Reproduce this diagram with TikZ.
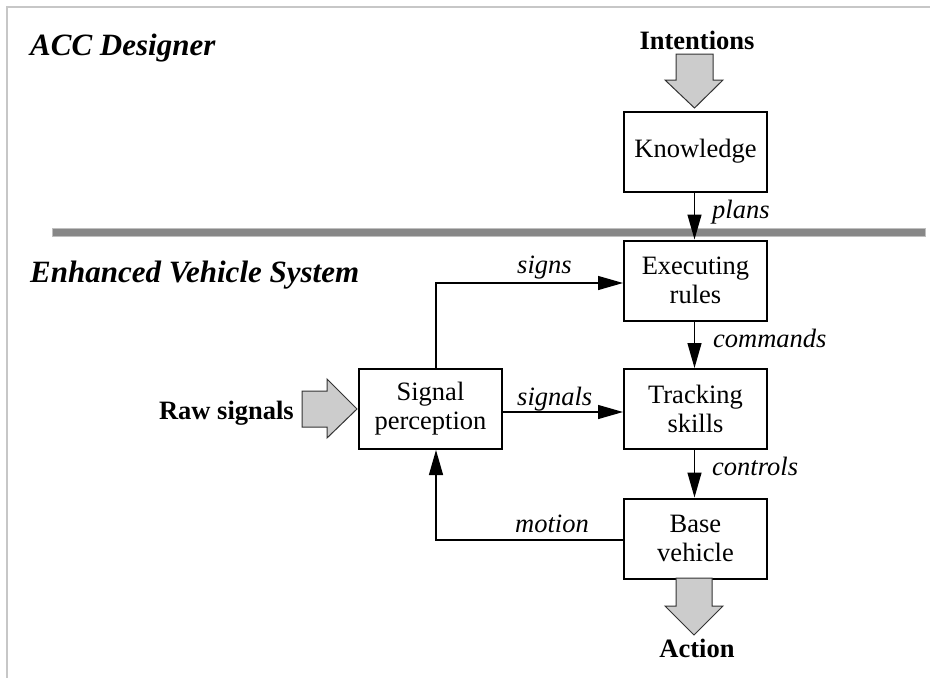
\documentclass[tikz,border=0pt]{standalone}
\usepackage{fontspec}
\setmainfont{Liberation Serif}
\usetikzlibrary{arrows.meta}
\begin{document}
\begin{tikzpicture}[x=1pt,y=-1pt,
  box/.style={draw,line width=2pt,minimum width=143pt,minimum height=80pt,inner sep=0pt,align=center,font=\fontsize{26.5}{29}\selectfont},
  lbl/.style={font=\fontsize{26.5}{29}\selectfont\itshape,inner sep=0pt},
  blbl/.style={font=\fontsize{26.5}{29}\selectfont\bfseries,inner sep=0pt},
  ttl/.style={font=\fontsize{31}{34}\selectfont\bfseries\itshape,inner sep=0pt},
  conn/.style={line width=1.3pt,-{Triangle[length=25pt,width=14pt]}},
  plainline/.style={line width=1.3pt},
  bigarrow/.style={fill=black!20,draw=black!80,line width=1pt}
]
\useasboundingbox (0,0) rectangle (930,678);
\fill[white] (0,0) rectangle (930,678);
\draw[black!22,line width=2pt] (7,678) -- (7,7) -- (930,7);
% separator bar
\draw[fill=black!47,draw=black!25,line width=1pt] (52,228) rectangle (925,236);
% titles
\node[ttl,anchor=base west] (t1) at (30,55) {ACC Designer};
\node[ttl,anchor=base west] (t2) at (30,282) {Enhanced Vehicle System};
% boxes
\node[box] (know) at (695.5,151.5) {Knowledge};
\node[box] (exec) at (695.5,280.5) {Executing\\rules};
\node[box] (track) at (695.5,409) {Tracking\\skills};
\node[box] (base) at (695.5,538.5) {Base\\vehicle};
\node[box] (sig) at (430.5,409) {Signal\\perception};
% big arrows
\draw[bigarrow] (676,54) -- (713,54) -- (713,80) -- (723,80) -- (694.5,108) -- (665,80) -- (676,80) -- cycle;
\draw[bigarrow] (676,578) -- (712,578) -- (712,606) -- (723,606) -- (694,635) -- (665,606) -- (676,606) -- cycle;
\draw[bigarrow] (302,391) -- (327,391) -- (327,379) -- (357,409) -- (327,438) -- (327,427) -- (302,427) -- cycle;
% big-arrow labels
\node[blbl,anchor=base] (intent) at (697,49) {Intentions};
\node[blbl,anchor=base] (action) at (697,657) {Action};
\node[blbl,anchor=base east] (raw) at (294,419) {Raw signals};
% connectors
\draw[conn] ([xshift=-1pt]know.south) -- ([xshift=-1pt]exec.north);
\draw[conn] ([xshift=-1pt]exec.south) -- ([xshift=-1pt]track.north);
\draw[conn] ([xshift=-1pt]track.south) -- ([xshift=-1pt]base.north);
\draw[conn] ([yshift=-3pt]sig.east) -- ([yshift=-3pt]track.west);
\draw[conn] ([xshift=5.5pt]sig.north) |- ([yshift=-2.5pt]exec.west);
\draw[conn] ([yshift=-1.5pt]base.west) -| ([xshift=5.5pt]sig.south);
% connector labels
\node[lbl,anchor=base west] (lplans) at (712,218) {plans};
\node[lbl,anchor=base west] (lcomm) at (713,347) {commands};
\node[lbl,anchor=base west] (lctrl) at (712,475) {controls};
\node[lbl,anchor=base west] (lsigns) at (517,273) {signs};
\node[lbl,anchor=base west] (lsignals) at (517,405) {signals};
\node[lbl,anchor=base west] (lmotion) at (515,532) {motion};
\end{tikzpicture}
\end{document}
